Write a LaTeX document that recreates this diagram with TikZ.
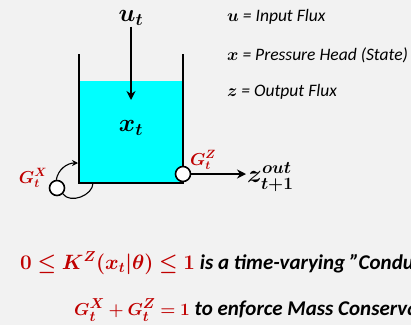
\documentclass[tikz,border=0pt]{standalone}
\usepackage{amsmath,amssymb}
\usepackage{fontspec}
\setmainfont{Carlito}
\usepackage{bm}
\usetikzlibrary{arrows.meta,positioning,calc}
\definecolor{bgpanel}{RGB}{242,242,242}
\definecolor{watercyan}{RGB}{0,255,255}
\definecolor{gatered}{RGB}{192,0,0}
\tikzset{
  wall/.style={line width=2pt,line cap=rect},
  flowarr/.style={-{Stealth[length=9pt,width=9pt]},line width=1.7pt},
  looparr/.style={-{Stealth[length=6pt,width=6pt]},line width=1.1pt},
  gate/.style={circle,draw,line width=1.6pt,fill=white,minimum size=15pt,inner sep=0pt},
  gatelbl/.style={text=gatered,inner sep=0pt,font=\fontsize{17}{18}\selectfont},
  varlbl/.style={inner sep=1pt,font=\fontsize{26}{28}\selectfont},
  legend/.style={anchor=west,inner sep=0pt,font=\fontsize{17.5}{20}\selectfont\itshape},
  eqline/.style={anchor=west,inner sep=0pt,font=\fontsize{21}{24}\selectfont\bfseries\itshape}
}
\newcommand{\redeq}[2]{{\color{gatered}\fontsize{#1}{22}\selectfont$\bm{#2}$}}

\begin{document}
\begin{tikzpicture}[x=1pt,y=1pt]
  \fill[bgpanel] (0,0) rectangle (411,325);
  \clip (0,0) rectangle (411,325);

  %% Tank with water
  \fill[watercyan] (79,142) rectangle (183,244);
  \draw[wall] (79,270) -- (79,142) -- (183,142) -- (183,270);

  %% Input flux and state
  \node[varlbl] (u) at (131,307) {$\bm{u_t}$};
  \coordinate (inflow) at (131,225);
  \draw[flowarr] (u) -- (inflow);
  \node[varlbl] (x) at (131,197) {$\bm{x_t}$};

  %% Output gate
  \node[gate] (gz) at (183,151) {};
  \node[gatelbl] (gzl) at (203,165) {$\bm{G_t^Z}$};
  \node[varlbl,anchor=west] (zout) at (246,148) {$\bm{z_{t+1}^{out}}$};
  \draw[flowarr] (gz) -- (gz -| zout.west);

  %% Recirculation gate
  \node[gate] (gx) at (57,137) {};
  \node[gatelbl] (gxl) at (33,147) {$\bm{G_t^X}$};
  \coordinate (wallin) at (78,162);
  \coordinate (tankbot) at (93,142);
  \draw[looparr] (gx.95) to[out=80,in=180] (wallin);
  \draw[line width=1.1pt] (gx.-45) to[out=-55,in=-90] (tankbot);

  %% Legend
  \node[legend] (lu) at (227,308) {$\bm{u}$ = Input Flux};
  \node[legend] (lx) at (227,270) {$\bm{x}$ = Pressure Head (State)};
  \node[legend] (lz) at (227,233) {$\bm{z}$ = Output Flux};

  %% Constraints
  \node[eqline] (cond) at (20,62)
    {\redeq{20.5}{0\le K^{Z}(x_t|\theta)\le 1} is a time-varying ”Conductivity”};
  \node[eqline] (mass) at (74,15)
    {\redeq{19}{G_t^X+G_t^Z=1} to enforce Mass Conservation};
\end{tikzpicture}
\end{document}
